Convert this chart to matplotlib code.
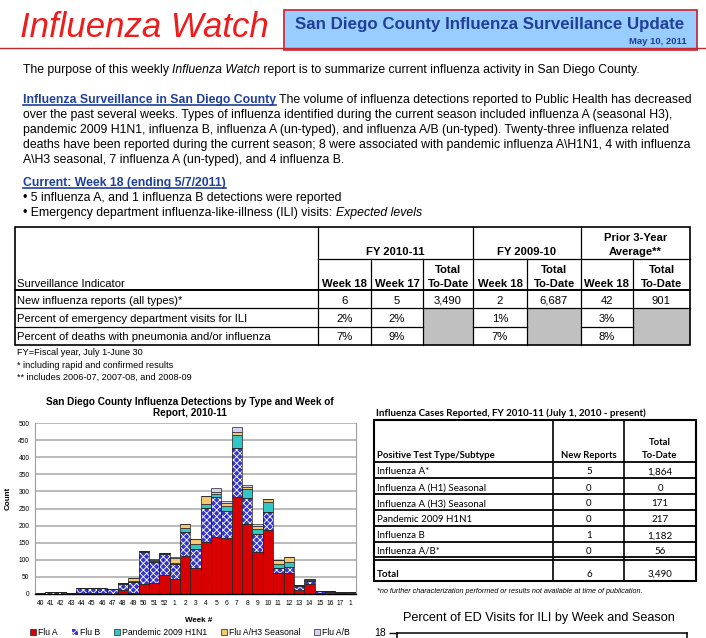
import numpy as np
import matplotlib
matplotlib.use("Agg")
import matplotlib.pyplot as plt
from matplotlib.patches import Rectangle

plt.rcParams['font.family'] = ['Liberation Sans', 'DejaVu Sans']
plt.rcParams['hatch.color'] = 'white'
plt.rcParams['hatch.linewidth'] = 0.6

# ---- chart data: detections by week of report, 2010-11 ----
weeks = ['40', '41', '42', '43', '44', '45', '46', '47', '48', '49', '50', '51', '52',
         '1', '2', '3', '4', '5', '6', '7', '8', '9', '10', '11', '12', '13', '14',
         '15', '16', '17', '1']
flu_a = [0, 1, 1, 0, 2, 3, 4, 1, 11, 2, 30, 31, 56, 45, 112, 77, 151, 166, 164,
         284, 206, 122, 186, 60, 62, 13, 28, 4, 7, 3, 5]
flu_b = [2, 4, 4, 3, 17, 16, 14, 13, 18, 33, 93, 64, 60, 44, 70, 56, 100, 117, 80,
         143, 75, 52, 54, 17, 16, 9, 9, 5, 2, 1, 1]
pandemic = [0, 0, 0, 0, 0, 0, 0, 0, 2, 2, 2, 2, 3, 2, 10, 13, 12, 10, 14,
            39, 25, 17, 29, 12, 16, 3, 4, 1, 1, 1, 0]
h3_seasonal = [0, 0, 0, 0, 0, 0, 0, 0, 1, 10, 2, 3, 2, 15, 14, 14, 24, 4, 7,
               8, 8, 9, 8, 10, 15, 1, 2, 0, 0, 0, 0]
flu_ab = [0, 0, 0, 0, 0, 0, 0, 0, 0, 0, 0, 2, 0, 1, 0, 0, 0, 13, 7,
          14, 4, 5, 2, 0, 0, 0, 0, 0, 0, 0, 0]
series_names = ['Flu A', 'Flu B', 'Pandemic 2009 H1N1', 'Flu A/H3 Seasonal', 'Flu A/B']

# ---- surveillance indicator table ----
indicators = ['New influenza reports (all types)*',
              'Percent of emergency department visits for ILI',
              'Percent of deaths with pneumonia and/or influenza']
col_heads = ['Week 18', 'Week 17', 'Total\nTo-Date', 'Week 18', 'Total\nTo-Date',
             'Week 18', 'Total\nTo-Date']
group_heads = ['FY 2010-11', 'FY 2009-10', 'Prior 3-Year\nAverage**']
row_new = ['6', '5', '3,490', '2', '6,687', '42', '901']
row_ed = ['2%', '2%', None, '1%', None, '3%', None]
row_deaths = ['7%', '9%', None, '7%', None, '8%', None]

# ---- cases reported table ----
test_types = ['Influenza A*', 'Influenza A (H1) Seasonal', 'Influenza A (H3) Seasonal',
              'Pandemic 2009 H1N1', 'Influenza B', 'Influenza A/B*']
new_reports = ['5', '0', '0', '0', '1', '0']
total_to_date = ['1,864', '0', '171', '217', '1,182', '56']
total_row = ['Total', '6', '3,490']

# ---- ED visits chart (only its top shows) ----
ed_ticks = [18]

W, H = 706, 638
fig = plt.figure(figsize=(W / 100, H / 100), dpi=100)
pg = fig.add_axes([0, 0, 1, 1])
pg.set_xlim(0, W)
pg.set_ylim(H, 0)
pg.axis('off')
rend = fig.canvas.get_renderer()

SANS = ['Liberation Sans', 'DejaVu Sans']
CAL = ['Lato', 'DejaVu Sans']
BLUE = '#1f3f9a'


def box(l, t, r, b):
    return [l / W, 1 - b / H, (r - l) / W, (b - t) / H]


def run(x, y, parts, size=8.8, family=SANS):
    # lay out text pieces one after another on a baseline
    for s, kw in parts:
        under = kw.pop('underline', False)
        t = pg.text(x, y, s, fontsize=size, family=family, va='baseline', **kw)
        w = t.get_window_extent(rend).width
        if under:
            pg.plot([x, x + w], [y + 1.8, y + 1.8], color=kw.get('color', 'black'), lw=1.2)
        x += w
    return x


# ---- header ----
pg.text(20, 37, 'Influenza Watch', fontsize=25, style='italic', color='#ee1c1c',
        va='baseline')
pg.plot([0, 706], [48, 48], color='#c0282d', lw=1.0)
pg.add_patch(Rectangle((284, 10), 413, 40, facecolor='#99ccff', edgecolor='#c8202e', lw=1.2))
pg.text(490, 29, 'San Diego County Influenza Surveillance Update', fontsize=12.2,
        weight='bold', color=BLUE, ha='center', va='baseline')
pg.text(687, 44, 'May 10, 2011', fontsize=6.8, weight='bold', color=BLUE,
        ha='right', va='baseline')

# ---- text ----
run(23, 73, [('The purpose of this weekly ', {}), ('Influenza Watch', {'style': 'italic'}),
             (' report is to summarize current influenza activity in San Diego County.', {})])
run(23, 103, [('Influenza Surveillance in San Diego County',
               {'weight': 'bold', 'color': BLUE, 'underline': True}),
              (' The volume of influenza detections reported to Public Health has decreased', {})])
para = ['over the past several weeks. Types of influenza identified during the current season included influenza A (seasonal H3),',
        'pandemic 2009 H1N1, influenza B, influenza A (un-typed), and influenza A/B (un-typed). Twenty-three influenza related',
        'deaths have been reported during the current season; 8 were associated with pandemic influenza A\\H1N1, 4 with influenza',
        'A\\H3 seasonal, 7 influenza A (un-typed), and 4 influenza B.']
for i, line in enumerate(para):
    run(23, 118 + 15 * i, [(line, {})])
run(23, 186, [('Current: Week 18 (ending 5/7/2011)',
               {'weight': 'bold', 'color': BLUE, 'underline': True})])
run(23, 201, [('\u2022 5 influenza A, and 1 influenza B detections were reported', {})])
run(23, 216, [('\u2022 Emergency department influenza-like-illness (ILI) visits: ', {}),
              ('Expected levels', {'style': 'italic'})])

# ---- surveillance table ----
cols = [318, 371, 423, 473, 527, 581, 633, 690]
rows = [290, 308, 327, 345]
TS = 8.1
for k in (2, 4, 6):
    pg.add_patch(Rectangle((cols[k], rows[1]), cols[k + 1] - cols[k], rows[3] - rows[1],
                           facecolor='#c0c0c0', edgecolor='none'))
pg.add_patch(Rectangle((15, 227), 675, 118, facecolor='none', edgecolor='black', lw=1.2))
pg.plot([318, 690], [259, 259], color='black', lw=0.9)
pg.plot([15, 690], [290, 290], color='black', lw=1.4)
pg.plot([15, 690], [308, 308], color='black', lw=0.9)
for a, b in [(15, 423), (473, 527), (581, 633)]:
    pg.plot([a, b], [327, 327], color='black', lw=0.9)
for x in (318, 473, 581):
    pg.plot([x, x], [227, 345], color='black', lw=0.9)
for x in (371, 423, 527, 633):
    pg.plot([x, x], [259, 345], color='black', lw=0.9)

for g, (a, b) in zip(group_heads, [(318, 473), (473, 581), (581, 690)]):
    pg.text((a + b) / 2, 255, g, fontsize=TS, weight='bold', ha='center',
            va='baseline', linespacing=1.45)
for k, h in enumerate(col_heads):
    pg.text((cols[k] + cols[k + 1]) / 2, 287, h, fontsize=TS, weight='bold',
            ha='center', va='baseline', linespacing=1.45)
pg.text(17, 287, 'Surveillance Indicator', fontsize=TS, va='baseline')
for r, (name, vals) in enumerate(zip(indicators, [row_new, row_ed, row_deaths])):
    yb = rows[r + 1] - 4.5
    pg.text(17, yb, name, fontsize=TS, va='baseline')
    for k, v in enumerate(vals):
        if v is not None:
            pg.text((cols[k] + cols[k + 1]) / 2, yb, v, fontsize=TS,
                    ha='center', va='baseline')
notes = ['FY=Fiscal year, July 1-June 30', '* including rapid and confirmed results',
         '** includes 2006-07, 2007-08, and 2008-09']
for i, n in enumerate(notes):
    pg.text(17, 355 + 12.5 * i, n, fontsize=6.6, va='baseline')

# ---- cases reported table ----
pg.text(376, 416, 'Influenza Cases Reported, FY 2010-11 (July 1, 2010 - present)',
        fontsize=7.0, weight='bold', family=CAL, va='baseline')
rl = [461.7, 477.7, 494.3, 510, 526, 541.7, 557.3]
pg.add_patch(Rectangle((374, 420), 322, 161, facecolor='none', edgecolor='black', lw=1.5))
for y in rl:
    pg.plot([374, 696], [y, y], color='black', lw=1.3)
pg.plot([374, 696], [560, 560], color='black', lw=1.3)
for x in (552.7, 624):
    pg.plot([x, x], [420, 581], color='black', lw=1.2)
pg.text(377, 458, 'Positive Test Type/Subtype', fontsize=6.8, weight='bold', family=CAL,
        va='baseline')
pg.text(589, 458, 'New Reports', fontsize=6.8, weight='bold', family=CAL, ha='center',
        va='baseline')
pg.text(660, 458, 'Total\nTo-Date', fontsize=6.8, weight='bold', family=CAL, ha='center',
        va='baseline', linespacing=1.6)
for i, (t, n, tot) in enumerate(zip(test_types, new_reports, total_to_date)):
    yb = rl[i + 1] - 3.5
    pg.text(377, yb, t, fontsize=7, family=CAL, va='baseline')
    pg.text(589, yb, n, fontsize=7, family=CAL, ha='center', va='baseline')
    pg.text(660, yb, tot, fontsize=7, family=CAL, ha='center', va='baseline')
pg.text(377, 577, total_row[0], fontsize=7, weight='bold', family=CAL, va='baseline')
pg.text(589, 577, total_row[1], fontsize=7, family=CAL, ha='center', va='baseline')
pg.text(660, 577, total_row[2], fontsize=7, family=CAL, ha='center', va='baseline')
pg.text(377, 593, '*no further characterization performed or results not available at time of publication.',
        fontsize=5.2, style='italic', va='baseline')

pg.text(539, 620.5, 'Percent of ED Visits for ILI by Week and Season', fontsize=9.1,
        ha='center', va='baseline')

# ---- detections chart ----
ax = fig.add_axes(box(35, 423, 356, 594))
x = np.arange(len(weeks))
stack = [np.array(s) for s in (flu_a, flu_b, pandemic, h3_seasonal, flu_ab)]
colors = ['#d80000', '#3535c8', '#33c6c6', '#f6c773', '#d2d2f2']
bottom = np.zeros(len(weeks))
handles = []
for k, (vals, c, name) in enumerate(zip(stack, colors, series_names)):
    if k == 1:
        bb = ax.bar(x, vals, 1.0, bottom=bottom, color=c, hatch='xxxxx', zorder=2, label=name)
        ax.bar(x, vals, 1.0, bottom=bottom, fill=False, edgecolor='#222222', lw=0.5, zorder=3)
    else:
        bb = ax.bar(x, vals, 1.0, bottom=bottom, color=c, edgecolor='#222222', lw=0.5,
                    zorder=2, label=name)
    handles.append(bb)
    bottom = bottom + vals
ax.set_xlim(-0.5, len(weeks) - 0.5)
ax.set_ylim(0, 500)
ax.set_yticks(range(0, 501, 50))
ax.set_xticks(x)
ax.set_xticklabels(weeks)
ax.tick_params(axis='both', labelsize=4.8, length=0, pad=4)
ax.tick_params(axis='y', pad=4)
ax.grid(axis='y', color='#a8a8a8', lw=1.1, zorder=0)
ax.set_axisbelow(True)
for s in ('top', 'right', 'left'):
    ax.spines[s].set_color('#a0a0a0')
ax.spines['top'].set_visible(False)
ax.spines['bottom'].set_color('black')
ax.spines['bottom'].set_linewidth(1.0)

pg.text(190, 416, 'San Diego County Influenza Detections by Type and Week of\nReport, 2010-11',
        fontsize=7.2, weight='bold', ha='center', va='baseline', linespacing=1.1)
pg.text(8, 498, 'Count', fontsize=5.8, weight='bold', rotation=90, ha='center', va='center')
pg.text(199, 620, 'Week #', fontsize=5.8, weight='bold', ha='center', va='center')
fig.legend(handles=handles, labels=series_names, loc='center left',
           bbox_to_anchor=(30 / W, 1 - 632.5 / H), ncol=5, frameon=False, fontsize=6.2,
           handlelength=0.7, handleheight=0.7, handletextpad=0.25, columnspacing=1.6,
           borderpad=0, borderaxespad=0)

ed = fig.add_axes(box(397, 632.5, 687, 832.5))
ed.set_ylim(0, 18)
ed.set_yticks(ed_ticks)
ed.set_xticks([])
ed.tick_params(axis='y', labelsize=7.5, length=6, width=1, pad=2)
for s in ed.spines.values():
    s.set_linewidth(1.1)

fig.savefig('out.png', dpi=100)
